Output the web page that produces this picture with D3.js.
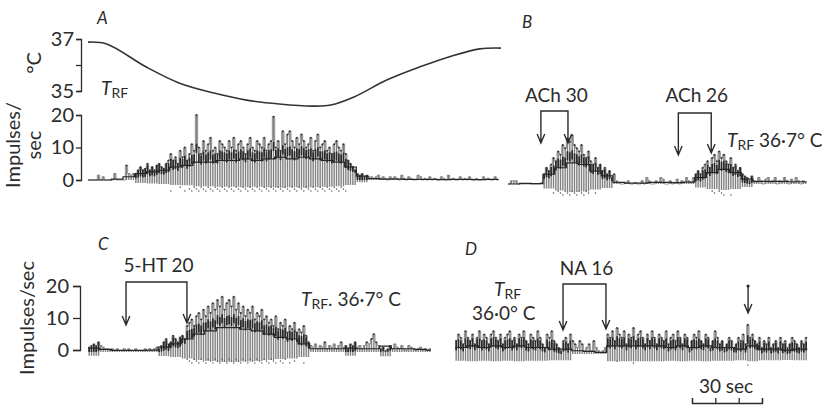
<!DOCTYPE html>
<html>
<head>
<meta charset="utf-8">
<script src="https://cdn.jsdelivr.net/npm/d3@7"></script>
<style>
  body { margin: 0; background: #fff; }
  svg text { font-family: Lato, "Open Sans", sans-serif; fill: #2b2b2b; }
</style>
</head>
<body>
<svg id="chart" width="833" height="406"></svg>
<script>
const secPx = 70 / 30   // 30 sec scale bar is 70 px

// A: temperature of the receptive field (deg C) at times (s)
const tempTime = [0, 8, 25, 39, 54, 68, 82, 96, 104, 114, 128, 142, 156, 168, 177]
const tempC = [36.88, 36.81, 35.92, 35.31, 34.92, 34.65, 34.5, 34.42, 34.46, 34.77, 35.42, 35.92, 36.35, 36.62, 36.65]

// ratemeter records, impulses/sec: peaks per 1 s bin, mean level per 5 s bin
const peakA = [0,0,0,0,1.5,0,1,0,0,0,0,2,0,0,0,0,
  4.5, 2,1.5,2,2,
  3,4,3,3.5,5,3,4,3,4.5,5,4,3.5,5,6,
  8,6,7,5,9,7,10,6,8,11,9,
  20,
  10,8,12,9,11,13,9,10,8,12,11,10,9,12,10,13,9,11,12,10,8,11,13,10,9,12,11,10,13,9,11,12,
  19.5,
  10,12,9,15,11,14,15,12,10,13,11,14,12,10,11,13,9,12,14,10,11,12,9,10,8,11,12,10,9,11,8,6,5,4,
  3,2,1.5,2,1,1.5,1,
  1,0.5,1,1.5,0.5,1,0.5,0,1,0.5,1,0.5,0,1.5,0.5,0,1,0.5,0,0,1.5,1,0,0.5,0,1,0,0.5,0,0,1,0.5,0,1.5,0,0.5,0,0,1,0,0.5,0,1,0,0,0.5,0,0,1,0,0.5,0,0,1,0]
const levelA = [0,0,0.3,1,2,2.5,3,4,4.5,5.5,5.5,6,6,6.5,6,6.5,7,6.5,7,6.5,6,5.5,4,1.2,0.4,0.3,0.3,0.2,0.2,0.2,0.1,0.2,0.2,0.1,0.2]

const peakB = [0,1,1,1,0,0,0,0,0,0,0,0,0,0,0.5,
  3,5,4,6,8,7,10,9,12,11,14,13,15,12,11,10,12,9,8,10,7,6,8,5,6,4,5,3,4,2,3,
  1,0.5,0,0,0.5,1,0,0,0.5,0,0,1,0,2,1,0,0,1,0.5,2,1.5,0,0,1,0,0.5,1.5,0,1,0.5,2,1,0.5,
  2,3,4,3,5,6,7,5,8,9,7,10,8,9,7,6,8,5,6,4,5,3,2.5,
  2,1,2.5,1,0.5,2,1,0,1.5,2,0.5,1,2,0,1,0.5,2,1,0,1.5,0.5,2,1,0,1,0.5]
const levelB = [0,0.2,0.1,3,5,6.5,6,4,2.5,0.5,0.3,0.3,0.5,0.5,0.4,0.6,2,3.5,4.5,3.5,1.5,0.8,0.8,0.8,0.7,0.7]

const peakC = [1.5,2,2.5,2,3,2,1.5,1,1,0.5,1,0.5,1,0.5,0.5,1,0.5,1,0.5,0.5,1,0.5,0.5,0.5,1,0.5,1,0.5,1,1.5,1,
  2,3,4,2.5,3,5,4,3,4.5,5,4,
  8,9,10,8,11,12,10,13,11,14,12,15,13,16,14,17,13,15,16,14,17,
  13,15,12,14,11,13,12,14,10,12,11,13,10,11,
  9,10,8,11,7,9,8,10,6,8,7,9,6,7,6,8,5,
  3,2,1.5,2.5,1,2,1.5,3,1,2,1.5,2.5,1,2,3,1.5,2,1,2.5,2,3,1.5,2,1,2,3,2.5,4,5.5,3,2,1,1.5,0.5,1,2,1,2.5,1.5,1,2,1,0.5,2,1.5,1,0.5,1,1.5,0.5,1,0.5,1]
const levelC = [1.2,0.8,0.5,0.5,0.5,0.6,1.5,2.5,4,5.5,6.5,7.5,7.5,7,6.5,5.5,4.5,4,2.5,1,1,1,1.2,1,1,1.8,1,1,0.8,0.6]

const peakD = [4,6,5,3,7,5,4,6,3,5,7,4,6,5,3,6,7,5,4,6,3,5,6,7,4,5,3,6,5,7,4,3,6,5,4,7,5,3,2,6,5,7,4,3,2,1,
  4,5,3,6,4,3,2,4,3,1,2,3,1,4,2,1,0.5,1,2,
  6,5,7,4,8,6,5,7,3,6,5,8,4,6,7,5,3,6,4,7,5,3,6,5,4,7,3,5,6,4,7,5,3,6,5,2,4,6,5,7,4,3,6,5,2,4,7,5,3,4,2,3,5,4,2,3,5,4,6,3,9,
  5,6,4,3,5,2,4,3,5,2,3,4,2,5,3,4,2,3,5,4,3,2,4,3,5]
const levelD = [2,2.5,2,2.5,2,2.5,2,2,1.5,1.5,1,0.8,0.5,2.5,2.5,2.5,2.5,2.5,2,2.5,2,2.5,2,2,1.5,2.5,1.5,1.5,1.2,1.5,1.5]

const rateTicks = [0, 10, 20]
const tempTicks = [35, 36, 37]

// drug applications (s from start of that record)
const drugLabels = ["ACh 30", "ACh 26", "5-HT 20", "NA 16"]
const drugOn = [14.1, 73, 16.3, 46.3]
const drugOff = [25.7, 87.1, 42.4, 64.7]
const markTimeD = 125.6   // single arrow in D

const svg = d3.select('#chart')
const ink = '#2b2b2b'

function drawTrace(x0, y, peaks, levels, below) {
  const g = svg.append('g')
  const n = peaks.length
  const x = d3.scaleLinear().domain([0, n]).range([x0, x0 + n * secPx])
  const lvl = i => levels[Math.min(levels.length - 1, Math.floor(i / 5))]
  const bins = peaks.map((p, i) => ({i, p, l: lvl(i)}))

  // pen hatching, down a little below zero when firing
  g.append('g').selectAll('line').data(bins).join('line')
    .attr('x1', d => x(d.i + 0.5)).attr('x2', d => x(d.i + 0.5))
    .attr('y1', d => y(d.p))
    .attr('y2', d => y(d.l > 1 ? -(below + 0.3 * d.l) : 0))
    .attr('stroke', '#808080').attr('stroke-width', 1.4)

  // scattered pen dots under busy stretches
  g.append('g').selectAll('circle').data(bins.filter(d => d.p >= 8))
    .join('circle')
    .attr('cx', d => x(d.i + 0.5)).attr('cy', d => y(-(2.2 + (d.i % 3) * 0.6)))
    .attr('r', 0.8).attr('fill', '#666')

  // outline of peaks
  const pk = bins.map(d => [d.i, d.p]).concat([[n, peaks[n - 1]]])
  g.append('path')
    .attr('d', d3.line().curve(d3.curveStepAfter).x(d => x(d[0])).y(d => y(d[1]))(pk))
    .attr('fill', 'none').attr('stroke', '#666').attr('stroke-width', 0.7)

  // small dark caps on the peaks
  g.append('g').selectAll('circle.cap').data(bins.filter(d => d.p >= 3))
    .join('circle')
    .attr('cx', d => x(d.i + 0.5)).attr('cy', d => y(d.p))
    .attr('r', 0.9).attr('fill', '#333')

  // dark mass around the mean, following each bin
  g.append('g').selectAll('line').data(bins.filter(d => d.l > 1)).join('line')
    .attr('x1', d => x(d.i + 0.5)).attr('x2', d => x(d.i + 0.5))
    .attr('y1', d => y(Math.max(0, d.l + 0.3 * (d.p - d.l) - 1.5)))
    .attr('y2', d => y(Math.min(d.p, d.l + 0.3 * (d.p - d.l) + 1.3)))
    .attr('stroke', '#2a2a2a').attr('stroke-width', 1.7)

  // mean level line
  const lv = levels.map((v, k) => [Math.min(k * 5, n), v]).concat([[n, levels[levels.length - 1]]])
  g.append('path')
    .attr('d', d3.line().curve(d3.curveStepAfter).x(d => x(d[0])).y(d => y(d[1]))(lv))
    .attr('fill', 'none').attr('stroke', '#262626').attr('stroke-width', 1.2)
  return x
}

function styleAxis(g, size) {
  g.selectAll('path, line').attr('stroke', ink).attr('stroke-width', 1.3)
  g.selectAll('text').attr('font-size', size).attr('fill', ink)
    .style('font-family', 'Lato, "Open Sans", sans-serif')
}

function label(x, y, txt, size, opts = {}) {
  const t = svg.append('text').attr('x', x).attr('y', y).attr('font-size', size)
    .attr('text-anchor', opts.anchor || 'start').text(txt)
  if (opts.italic) t.attr('font-style', 'italic')
  if (opts.rotate) t.attr('transform', `rotate(-90 ${x} ${y})`).attr('dominant-baseline', 'central')
  return t
}

function trfLabel(x, y, rest) {
  const t = svg.append('text').attr('x', x).attr('y', y).attr('font-size', 19)
  t.append('tspan').attr('font-style', 'italic').text('T')
  t.append('tspan').attr('font-size', 14).attr('dy', 3).text('RF')
  if (rest) t.append('tspan').attr('dy', -3).text(rest)
}

function arrowHead(x, tip) {
  return `M${x - 3.8},${tip - 9}L${x},${tip}L${x + 3.8},${tip - 9}`
}

function bracket(x, on, off, top, tip1, tip2, txt, labelY) {
  const x1 = x(on), x2 = x(off)
  svg.append('path')
    .attr('d', `M${x1},${tip1}V${top}H${x2}V${tip2}` + arrowHead(x1, tip1) + arrowHead(x2, tip2))
    .attr('fill', 'none').attr('stroke', ink).attr('stroke-width', 1.4)
  label((x1 + x2) / 2 + 2, labelY, txt, 19, {anchor: 'middle'})
}

// ---------- Panel A ----------
const yTemp = d3.scaleLinear().domain([35, 37]).range([91, 39])
const yA = d3.scaleLinear().domain([0, 20]).range([180, 115])

svg.append('g').attr('transform', 'translate(81,0)')
  .call(d3.axisLeft(yTemp).tickValues(tempTicks).tickSize(5).tickPadding(2)
    .tickFormat(d => d === 36 ? '' : d))
  .call(g => styleAxis(g, 20))
svg.append('g').attr('transform', 'translate(81,0)')
  .call(d3.axisLeft(yA).tickValues(rateTicks).tickSize(5).tickPadding(2))
  .call(g => styleAxis(g, 20))

const xA = drawTrace(88, yA, peakA, levelA, 0.3)
const xTemp = d3.scaleLinear().domain([0, 1]).range([88, 88 + secPx])
svg.append('path')
  .datum(tempTime.map((t, i) => [t, tempC[i]]))
  .attr('d', d3.line().curve(d3.curveCatmullRom).x(d => xTemp(d[0])).y(d => yTemp(d[1])))
  .attr('fill', 'none').attr('stroke', '#333').attr('stroke-width', 1.6)

label(97, 24, 'A', 17, {italic: true})
label(33, 63, '°C', 20, {anchor: 'middle', rotate: true})
label(12, 145, 'Impulses/', 20, {anchor: 'middle', rotate: true})
label(33, 145, 'sec', 20, {anchor: 'middle', rotate: true})
trfLabel(101, 95)

// ---------- Panel B ----------
const yB = d3.scaleLinear().domain([0, 20]).range([184, 119])
const xB = drawTrace(508, yB, peakB, levelB, 0.5)
label(522, 28, 'B', 17, {italic: true})
bracket(xB, drugOn[0], drugOff[0], 111, 143, 143, drugLabels[0], 102)
bracket(xB, drugOn[1], drugOff[1], 113, 155, 153, drugLabels[1], 102)
trfLabel(727, 147, ' 36·7° C')

// ---------- Panel C ----------
const yC = d3.scaleLinear().domain([0, 20]).range([352, 287])
svg.append('g').attr('transform', 'translate(80,0)')
  .call(d3.axisLeft(d3.scaleLinear().domain([0, 20]).range([350, 286]))
    .tickValues(rateTicks).tickSize(7).tickPadding(4))
  .call(g => styleAxis(g, 20))
const xC = drawTrace(88, yC, peakC, levelC, 0.8)
label(98, 250, 'C', 17, {italic: true})
label(26, 318, 'Impulses/sec', 20, {anchor: 'middle', rotate: true})
bracket(xC, drugOn[2], drugOff[2], 282, 325, 323, drugLabels[2], 272)
trfLabel(301, 306, '. 36·7° C')

// ---------- Panel D ----------
const yD = d3.scaleLinear().domain([0, 20]).range([354, 289])
const xD = drawTrace(455, yD, peakD, levelD, 1.5)
label(465, 255, 'D', 17, {italic: true})
trfLabel(494, 296)
label(472, 320, '36·0° C', 19)
bracket(xD, drugOn[3], drugOff[3], 284, 330, 329, drugLabels[3], 275)
const mx = xD(markTimeD)
svg.append('path').attr('d', `M${mx},286V313` + arrowHead(mx, 313))
  .attr('fill', 'none').attr('stroke', ink).attr('stroke-width', 1.4)
svg.append('circle').attr('cx', mx).attr('cy', 286).attr('r', 1.6).attr('fill', ink)

// 30 sec scale bar
const barX = d3.scaleLinear().domain([0, 30]).range([692, 692 + 30 * secPx])
svg.append('g').attr('transform', 'translate(0,403)')
  .call(d3.axisTop(barX).tickValues([0, 10, 20, 30]).tickSize(5).tickFormat(''))
  .call(g => styleAxis(g, 18))
label(726, 393, '30 sec', 19, {anchor: 'middle'})
</script>
</body>
</html>
